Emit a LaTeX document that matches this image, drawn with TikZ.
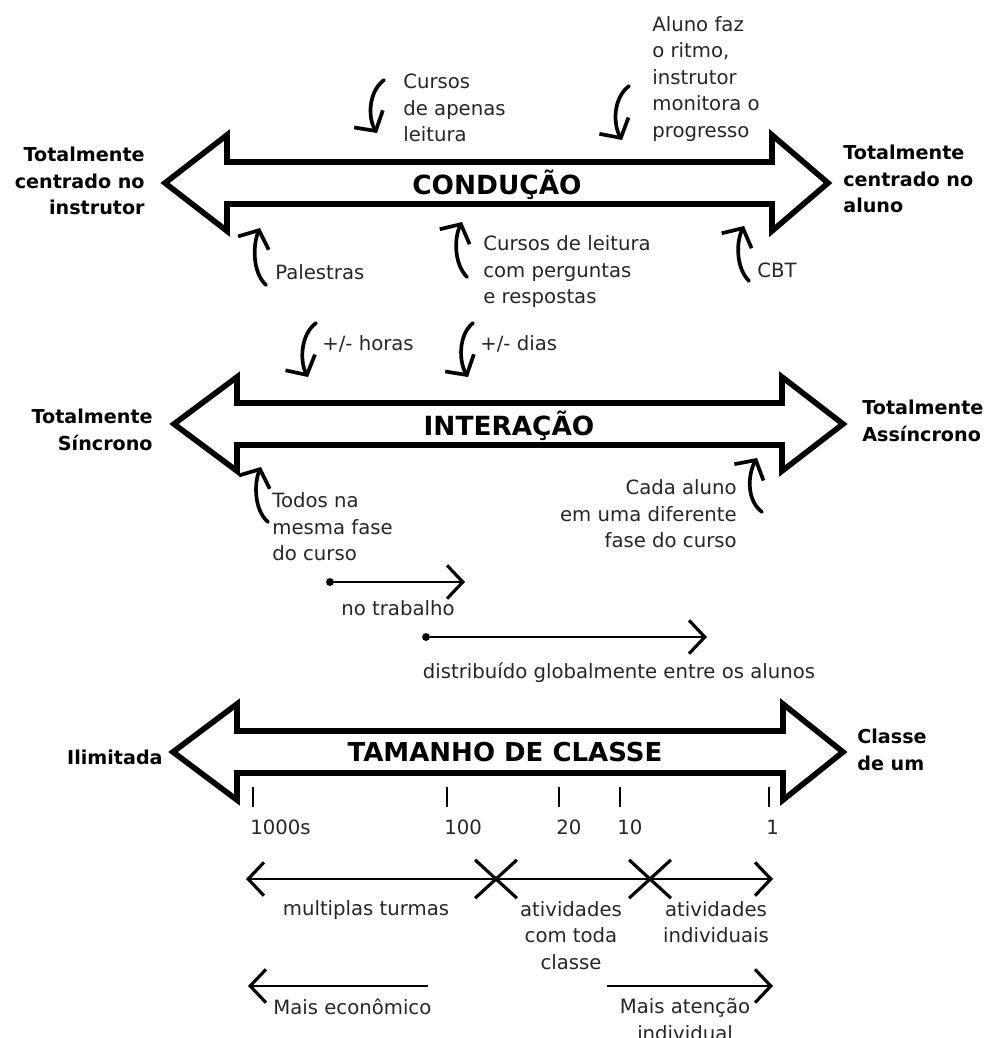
\documentclass[tikz,border=0pt]{standalone}
\usepackage{fontspec}
\setmainfont{DejaVu Sans}
\usetikzlibrary{arrows.meta,shapes.misc}

\begin{document}
\begin{tikzpicture}
[x=0.02cm,y=-0.02cm]
\tikzset{lbl/.style={inner sep=0pt,text=black!85,align=left,font=\fontsize{11.2}{15.1}\selectfont},
  endl/.style={inner sep=0pt,align=left,font=\bfseries\fontsize{10.9}{15}\selectfont},
  title/.style={inner sep=0pt,font=\bfseries\fontsize{15}{18}\selectfont},
  big/.style={line width=3.2pt,line join=miter},
  curv/.style={line width=2.1pt,line cap=round,-{Straight Barb[length=8pt,width=19pt]}},
  barb/.tip={Straight Barb[line width=1.8pt,length=9pt,width=19pt]},
  rng/.style={line width=1.1pt},
  tick/.style={line width=1pt},
  dot/.style={circle,fill,inner sep=0pt,minimum size=4.5pt},
  xm/.style={cross out,draw,line width=1.8pt,inner sep=0pt,minimum width=22pt,minimum height=20pt}}
\useasboundingbox (0,0) rectangle (988,1038);

% conducao
\draw[big] (165,183) -- (227,135) -- (227,162) -- (772,162) -- (772,135) -- (828,183)
  -- (772,231) -- (772,204) -- (227,204) -- (227,231) -- cycle;
\node[title] (cond) at (497,185) {CONDUÇÃO};
\node[endl,align=right,anchor=east] (instr) at (145,181) {Totalmente\\centrado no\\instrutor};
\node[endl,anchor=west] (aluno) at (843,179) {Totalmente\\centrado no\\aluno};
\node[lbl,anchor=west] (leit) at (403,108) {Cursos\\de apenas\\leitura};
\node[lbl,anchor=west] (ritmo) at (652,79) {Aluno faz\\o ritmo,\\instrutor\\monitora o\\progresso};
\node[lbl,anchor=west] (pal) at (275,272) {Palestras};
\node[lbl,anchor=west] (perg) at (483,272) {Cursos de leitura\\com perguntas\\e respostas};
\node[lbl,anchor=west] (cbt) at (757,270) {CBT};

\coordinate (t1) at (384,80);  \coordinate (h1) at (377,133);
\coordinate (t2) at (629,86);  \coordinate (h2) at (622,140);
\coordinate (t3) at (266,285); \coordinate (h3) at (260,228);
\coordinate (t4) at (467,277); \coordinate (h4) at (462,222);
\coordinate (t5) at (749,281); \coordinate (h5) at (744,226);
\draw[curv] (t1) .. controls (368,92) and (368,118) .. (h1);
\draw[curv] (t2) .. controls (613,98) and (613,124) .. (h2);
\draw[curv] (t3) .. controls (252,272) and (253,244) .. (h3);
\draw[curv] (t4) .. controls (454,264) and (454,238) .. (h4);
\draw[curv] (t5) .. controls (736,268) and (736,242) .. (h5);

% interacao
\draw[big] (174,424) -- (237,377) -- (237,403) -- (782,403) -- (782,377) -- (843,424)
  -- (782,471) -- (782,445) -- (237,445) -- (237,471) -- cycle;
\node[title] (inter) at (509,426) {INTERAÇÃO};
\node[endl,align=right,anchor=east] (sinc) at (153,430) {Totalmente\\Síncrono};
\node[endl,anchor=west] (assinc) at (862,421) {Totalmente\\Assíncrono};
\node[lbl,anchor=west] (horas) at (322,344) {+/- horas};
\node[lbl,anchor=west] (dias) at (480,344) {+/- dias};
\node[lbl,anchor=west] (todos) at (272,527) {Todos na\\mesma fase\\do curso};
\node[lbl,align=right,anchor=east] (cada) at (737,514) {Cada aluno\\em uma diferente\\fase do curso};

\coordinate (t6) at (316,323); \coordinate (h6) at (308,377);
\coordinate (t7) at (473,323); \coordinate (h7) at (468,377);
\coordinate (t8) at (268,522); \coordinate (h8) at (261,467);
\coordinate (t9) at (762,512); \coordinate (h9) at (757,458);
\draw[curv] (t6) .. controls (300,335) and (300,362) .. (h6);
\draw[curv] (t7) .. controls (458,335) and (459,362) .. (h7);
\draw[curv] (t8) .. controls (254,510) and (254,483) .. (h8);
\draw[curv] (t9) .. controls (746,500) and (748,474) .. (h9);

\node[dot] (d1) at (330,582) {};
\coordinate (e1) at (465,582);
\draw[rng,-barb] (d1) -- (e1);
\node[lbl] (trab) at (398,608) {no trabalho};
\node[dot] (d2) at (426,637) {};
\coordinate (e2) at (707,637);
\draw[rng,-barb] (d2) -- (e2);
\node[lbl] (glob) at (619,673) {distribuído globalmente entre os alunos};

% tamanho de classe
\draw[big] (173,752) -- (237,704) -- (237,731) -- (783,731) -- (783,704) -- (843,752)
  -- (783,800) -- (783,773) -- (237,773) -- (237,800) -- cycle;
\node[title,font=\bfseries\fontsize{14.8}{17}\selectfont] (tam) at (505,752) {TAMANHO DE CLASSE};
\node[endl,anchor=east] (ilim) at (163,757) {Ilimitada};
\node[endl,anchor=west] (um) at (857,750) {Classe\\de um};

\foreach \x/\t in {253/1000s,447/100,559/20,620/10,769/1}
{
  \draw[tick] (\x,787) -- (\x,807);
  \node[lbl,anchor=west] (n\t) at (\x-3,827) {\t};
}

\coordinate (r0) at (246,879);
\coordinate (r1) at (773,879);
\draw[rng,barb-barb] (r0) -- (r1);
\node[xm] (k1) at (496,879) {};
\node[xm] (k2) at (650,879) {};
\node[lbl] (mult) at (366,910) {multiplas turmas};
\node[lbl,align=center,anchor=north] (toda) at (571,901) {atividades\\com toda\\classe};
\node[lbl,align=center,anchor=north] (indiv) at (716,901) {atividades\\individuais};

\coordinate (m0) at (428,986);
\coordinate (m1) at (248,986);
\draw[rng,-barb] (m0) -- (m1);
\node[lbl,anchor=west] (econ) at (273,1007) {Mais econômico};
\coordinate (a0) at (607,986);
\coordinate (a1) at (773,986);
\draw[rng,-barb] (a0) -- (a1);
\node[lbl,align=center,anchor=north] (aten) at (685,998) {Mais atenção\\individual};

\end{tikzpicture}
\end{document}
